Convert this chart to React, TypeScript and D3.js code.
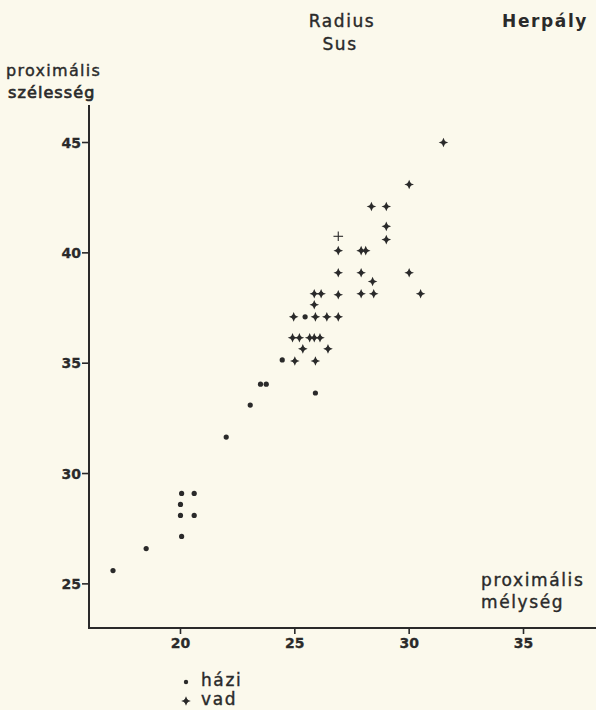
import React from "react";
import * as d3 from "d3";

// házi (domestic) — proximális mélység (x), proximális szélesség (y)
const haziX = [25.45, 24.45, 23.5, 23.75, 23.05, 25.9, 22.0, 20.05, 20.6, 20.0, 20.0, 20.6, 20.05, 18.5, 17.05];
const haziY = [37.1, 35.15, 34.05, 34.05, 33.1, 33.65, 31.65, 29.1, 29.1, 28.6, 28.1, 28.1, 27.15, 26.6, 25.6];

// vad (wild)
const vadX = [31.5, 30.0, 28.35, 29.0, 29.0, 29.0, 26.9, 27.9, 28.1, 26.9, 27.9, 30.0, 28.4, 25.85, 26.15, 26.9, 27.9, 28.45, 30.5, 25.85, 24.95, 25.9, 26.4, 26.9, 24.9, 25.2, 25.65, 25.85, 26.1, 25.35, 26.45, 25.0, 25.9];
const vadY = [45.0, 43.1, 42.1, 42.1, 41.2, 40.6, 40.1, 40.1, 40.1, 39.1, 39.1, 39.1, 38.7, 38.15, 38.15, 38.1, 38.15, 38.15, 38.15, 37.65, 37.1, 37.1, 37.1, 37.1, 36.15, 36.15, 36.15, 36.15, 36.15, 35.65, 35.65, 35.1, 35.1];
// faint (lightly printed) vad mark
const vadFaintX = [26.9];
const vadFaintY = [40.75];

const xTicks = [20, 25, 30, 35];
const yTicks = [25, 30, 35, 40, 45];

const titleLines = ["Radius", "Sus"];
const siteLabel = "Herpály";
const yLabelLines = ["proximális", "szélesség"];
const xLabelLines = ["proximális", "mélység"];
const legendLabels = ["házi", "vad"];

const W = 596;
const H = 710;
const INK = "#2a2a2a";
const BG = "#fbf9ec";
const FONT = "'DejaVu Sans', sans-serif";

function Plus({ x, y, faint }: { x: number; y: number; faint?: boolean }) {
  const a = 4.8;
  if (faint) {
    return (
      <g transform={`translate(${x},${y})`} stroke={INK} strokeWidth={1.1} fill="none">
        <line x1={-a} x2={a} y1={0} y2={0} />
        <line x1={0} x2={0} y1={-a} y2={a} />
      </g>
    );
  }
  return (
    <g transform={`translate(${x},${y})`} fill={INK}>
      <path d={`M${-a},0 L-1.5,-1.3 L0,${-a} L1.5,-1.3 L${a},0 L1.5,1.3 L0,${a} L-1.5,1.3 Z`} />
      <rect x={-1.7} y={-1.7} width={3.4} height={3.4} />
    </g>
  );
}

export default function App() {
  const x = d3.scaleLinear().domain([16, 38.17]).range([89, 596]);
  const y = d3.scaleLinear().domain([23, 46.7]).range([628, 105]);
  const x0 = x(16);
  const y0 = y(23);

  const txt = {
    fontFamily: FONT,
    fill: INK,
    stroke: INK,
    strokeWidth: 0.4,
    letterSpacing: "1.6px",
  } as React.CSSProperties;
  const tick = { fontFamily: FONT, fill: INK, stroke: INK, strokeWidth: 0.3 } as React.CSSProperties;

  return (
    <svg
      width={W}
      height={H}
      style={{ position: "absolute", left: 0, top: 0, background: BG }}
    >
      <rect x={0} y={0} width={W} height={H} fill={BG} />

      {/* titles */}
      <text x={342} y={27} textAnchor="middle" fontSize={17} style={txt}>{titleLines[0]}</text>
      <text x={340} y={50} textAnchor="middle" fontSize={17} style={txt}>{titleLines[1]}</text>
      <text x={588} y={27} textAnchor="end" fontSize={17} fontWeight="bold" style={{ ...txt, strokeWidth: 0 }}>{siteLabel}</text>

      {/* y label */}
      <text x={6} y={76} fontSize={16} style={{ ...txt, letterSpacing: "1.3px" }}>{yLabelLines[0]}</text>
      <text x={8} y={98} fontSize={16} style={{ ...txt, strokeWidth: 0.7, letterSpacing: "1.1px" }}>{yLabelLines[1]}</text>

      {/* x label */}
      <text x={481} y={586} fontSize={17} style={txt}>{xLabelLines[0]}</text>
      <text x={481} y={608} fontSize={17} style={txt}>{xLabelLines[1]}</text>

      {/* axes */}
      <line x1={x0} x2={x0} y1={y(46.7)} y2={y0 + 1} stroke={INK} strokeWidth={2} />
      <line x1={x0} x2={W} y1={y0} y2={y0} stroke={INK} strokeWidth={2} />

      {yTicks.map((t) => (
        <g key={`yt${t}`}>
          <line x1={x0 - 7} x2={x0} y1={y(t)} y2={y(t)} stroke={INK} strokeWidth={1.6} />
          <text
            x={x0 - 8}
            y={y(t)}
            dy="0.36em"
            textAnchor="end"
            fontSize={14}
            fontWeight="bold"
            style={tick}
          >
            {t}
          </text>
        </g>
      ))}

      {xTicks.map((t) => (
        <g key={`xt${t}`}>
          <line x1={x(t)} x2={x(t)} y1={y0} y2={y0 + 6} stroke={INK} strokeWidth={1.6} />
          <text
            x={x(t)}
            y={648}
            textAnchor="middle"
            fontSize={14}
            fontWeight="bold"
            style={tick}
          >
            {t}
          </text>
        </g>
      ))}

      {/* házi points */}
      {haziX.map((v, i) => (
        <circle key={`h${i}`} cx={x(v)} cy={y(haziY[i])} r={2.6} fill={INK} />
      ))}

      {/* vad points */}
      {vadX.map((v, i) => (
        <Plus key={`v${i}`} x={x(v)} y={y(vadY[i])} />
      ))}
      {vadFaintX.map((v, i) => (
        <Plus key={`vf${i}`} x={x(v)} y={y(vadFaintY[i])} faint />
      ))}

      {/* legend */}
      <circle cx={186} cy={682} r={2.2} fill={INK} />
      <text x={201} y={686} fontSize={17} style={txt}>{legendLabels[0]}</text>
      <Plus x={186} y={701} />
      <text x={201} y={705} fontSize={17} style={txt}>{legendLabels[1]}</text>
    </svg>
  );
}
